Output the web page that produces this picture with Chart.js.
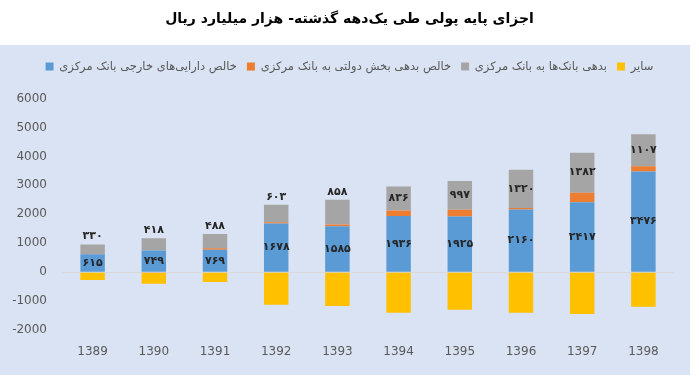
<!DOCTYPE html>
<html><head><meta charset="utf-8">
<script src="https://cdn.jsdelivr.net/npm/chart.js@4"></script>
<style>html,body{margin:0;padding:0;background:#fff}#wrap{width:699px;height:378px}</style>
</head><body><div id="wrap"><canvas id="c" width="699" height="378"></canvas></div>
<script>
const years = ['1389','1390','1391','1392','1393','1394','1395','1396','1397','1398'];
const foreignAssets = [615, 749, 769, 1678, 1585, 1936, 1925, 2160, 2417, 3476];
const govDebt = [10, -30, 60, 45, 60, 190, 230, 60, 330, 180];
const bankDebt = [330, 418, 488, 603, 858, 836, 997, 1320, 1382, 1107];
const other = [-270, -370, -340, -1130, -1170, -1400, -1300, -1400, -1450, -1200];
const seriesNames = ['خالص دارایی‌های خارجی بانک مرکزی','خالص بدهی بخش دولتی به بانک مرکزی','بدهی بانک‌ها به بانک مرکزی','سایر'];
const titleText = 'اجزای پایه پولی طی یک‌دهه گذشته- هزار میلیارد ریال';

const FONT = "'DejaVu Sans', sans-serif";
function fa(n){ return String(n).replace(/[0-9]/g, d => '۰۱۲۳۴۵۶۷۸۹'[d]); }

const bgPlugin = {
  id: 'bg',
  beforeDraw(chart){
    const ctx = chart.ctx;
    ctx.save();
    ctx.fillStyle = '#ffffff';
    ctx.fillRect(0,0,chart.width,chart.height);
    ctx.fillStyle = '#dae3f3';
    ctx.fillRect(0,45,690,330);
    ctx.restore();
  }
};
const labelPlugin = {
  id: 'vals',
  afterDatasetsDraw(chart){
    const ctx = chart.ctx;
    ctx.save();
    ctx.font = "bold 11px " + FONT;
    ctx.fillStyle = '#262626';
    ctx.textAlign = 'center';
    ctx.textBaseline = 'middle';
    const m0 = chart.getDatasetMeta(0);
    m0.data.forEach((el,i)=>{
      ctx.fillText(fa(foreignAssets[i]), el.x, (el.y+el.base)/2);
    });
    const m2 = chart.getDatasetMeta(2);
    m2.data.forEach((el,i)=>{
      const top = Math.min(el.y, el.base);
      const y = i < 5 ? top - 8 : (el.y+el.base)/2;
      ctx.fillText(fa(bankDebt[i]), el.x, y);
    });
    ctx.restore();
  }
};

new Chart(document.getElementById('c'), {
  type: 'bar',
  data: {
    labels: years,
    datasets: [
      {label: seriesNames[0], data: foreignAssets, backgroundColor: '#5b9bd5'},
      {label: seriesNames[1], data: govDebt, backgroundColor: '#ed7d31'},
      {label: seriesNames[2], data: bankDebt, backgroundColor: '#a5a5a5'},
      {label: seriesNames[3], data: other, backgroundColor: '#ffc000'}
    ]
  },
  options: {
    responsive: false,
    animation: false,
    devicePixelRatio: 1,
    layout: {padding: {left: 0, right: 0, top: 0, bottom: 0}},
    datasets: {bar: {categoryPercentage: 1, barPercentage: 0.4}},
    plugins: {
      title: {display: true, text: titleText, color: '#000', font: {family: FONT, size: 14, weight: 'bold'}, padding: {top: 11, bottom: 23}},
      subtitle: {display: true, text: ' ', weight: 500, font: {size: 1}, padding: {top: 0, bottom: 15}},
      legend: {
        display: true, position: 'top',
        labels: {boxWidth: 8, boxHeight: 8, color: '#595959', font: {family: FONT, size: 11.5}, padding: 10}
      },
      tooltip: {enabled: false}
    },
    scales: {
      x: {
        stacked: true,
        grid: {display: false, drawTicks: false},
        border: {display: false},
        ticks: {color: '#595959', font: {family: FONT, size: 12}, padding: 15},
        afterFit(s){ s.height = 48; }
      },
      y: {
        stacked: true,
        min: -2000, max: 6000,
        grid: {drawTicks: false, color: ctx => ctx.tick && ctx.tick.value === 0 ? '#d9d9d9' : 'rgba(0,0,0,0)'},
        border: {display: false},
        ticks: {stepSize: 1000, color: '#595959', font: {family: FONT, size: 12}, padding: 15, callback: v => String(v)},
        afterFit(s){ s.width = 62; }
      },
      yRight: {
        type: 'linear', position: 'right', display: true,
        grid: {display: false, drawTicks: false},
        border: {display: false},
        ticks: {display: false},
        afterFit(s){ s.width = 25; }
      }
    }
  },
  plugins: [bgPlugin, labelPlugin]
});
</script>
</body></html>
